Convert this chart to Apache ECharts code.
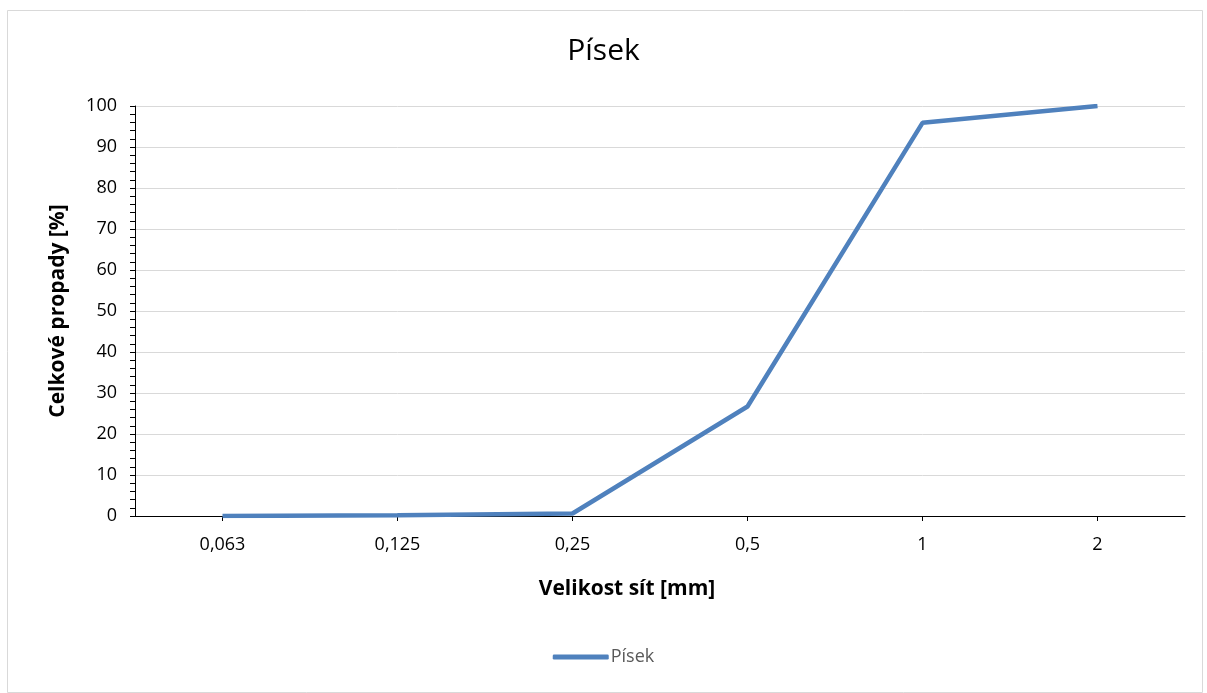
<!DOCTYPE html>
<html><head><meta charset="utf-8">
<script src="https://cdn.jsdelivr.net/npm/echarts@6/dist/echarts.min.js"></script>
<style>html,body{margin:0;padding:0;background:#fff}#c{width:1207px;height:693px}</style>
</head><body><div id="c"></div>
<script>
const categories = ['0,063', '0,125', '0,25', '0,5', '1', '2'];
const values = [0.0, 0.2, 0.6, 26.7, 95.9, 100];
const seriesName = 'Písek';
const titleText = 'Písek';
const xName = 'Velikost sít [mm]';
const yName = 'Celkové propady [%]';

const FONT = '"Open Sans", sans-serif';
const chart = echarts.init(document.getElementById('c'), null, {renderer: 'canvas'});
chart.setOption({
  backgroundColor: '#fff',
  animation: false,
  textStyle: {fontFamily: FONT},
  graphic: [{type: 'rect', left: 5, top: 8, shape: {width: 1195, height: 682},
    style: {fill: 'none', stroke: '#d9d9d9', lineWidth: 1}, silent: true}],
  title: {text: titleText, left: 'center', top: 31, padding: [5, 5, 5, 17],
    textStyle: {fontFamily: FONT, fontSize: 30, fontWeight: 'normal', color: '#000'}},
  legend: {bottom: 22, left: 'center', itemWidth: 56, itemHeight: 5, itemGap: 10,
    textStyle: {fontFamily: FONT, fontSize: 18, color: '#595959', padding: [0, 0, 0, -3]},
    data: [{name: seriesName, icon: 'roundRect'}]},
  grid: {left: 135, right: 22, top: 106, bottom: 177, containLabel: false},
  xAxis: {type: 'category', data: categories, boundaryGap: true,
    name: xName, nameLocation: 'middle', nameGap: 63,
    nameTextStyle: {fontFamily: FONT, fontSize: 21, fontWeight: 'bold', color: '#000', padding: [0, 66, 0, 0]},
    axisLine: {lineStyle: {color: '#000', width: 1}},
    axisTick: {show: true, alignWithLabel: true, length: 5, lineStyle: {color: '#000'}},
    axisLabel: {fontFamily: FONT, fontSize: 18, color: '#000', margin: 20},
    splitLine: {show: false}},
  yAxis: {type: 'value', min: 0, max: 100, interval: 10,
    name: yName, nameLocation: 'middle', nameGap: 66, nameRotate: 90,
    nameTextStyle: {fontFamily: FONT, fontSize: 21, fontWeight: 'bold', color: '#000'},
    axisLine: {show: true, lineStyle: {color: '#000', width: 1}},
    axisTick: {show: true, length: 5, lineStyle: {color: '#000'}},
    minorTick: {show: true, splitNumber: 5, length: 5, lineStyle: {color: '#000'}},
    axisLabel: {fontFamily: FONT, fontSize: 18, color: '#000', margin: 18},
    splitLine: {show: true, lineStyle: {color: '#d9d9d9', width: 1}}},
  series: [{name: seriesName, type: 'line', data: values, symbol: 'none',
    lineStyle: {color: '#4f81bd', width: 4.5}, itemStyle: {color: '#4f81bd'}}]
});
</script></body></html>
